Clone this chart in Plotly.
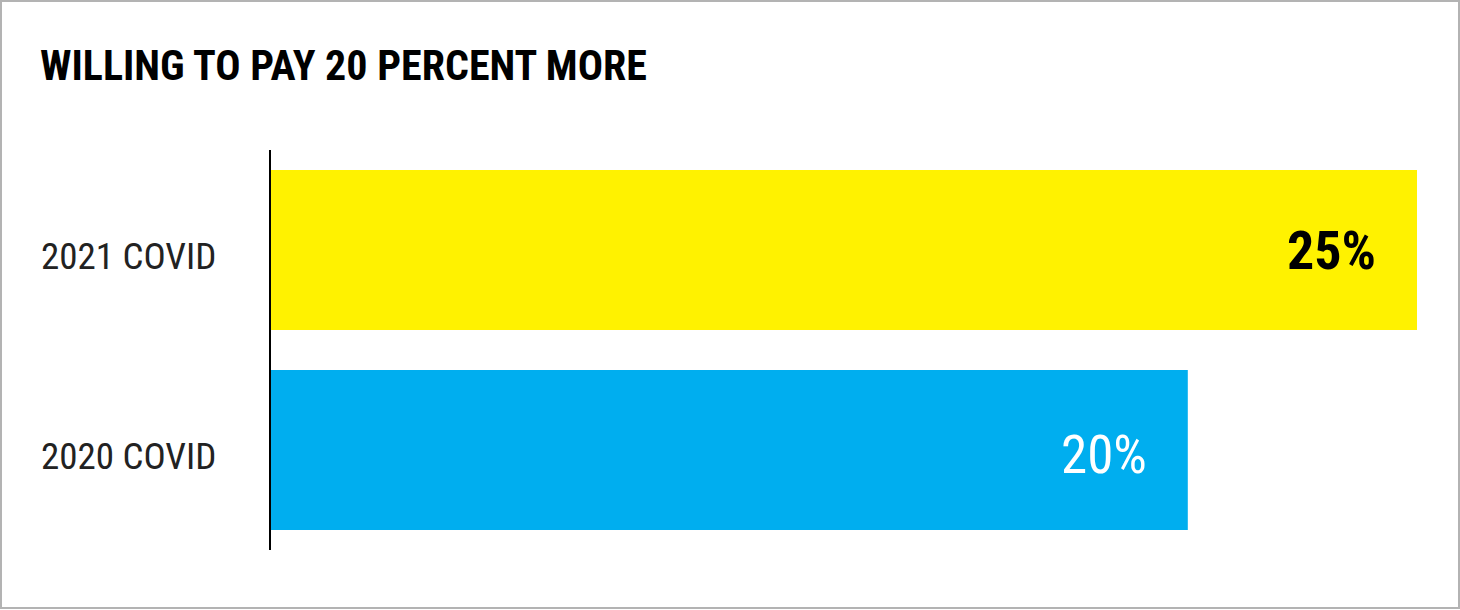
import plotly.graph_objects as go

# data
categories = ['2021 COVID', '2020 COVID']
values = [25, 20]
value_labels = ['25%', '20%']
bar_colors = ['#FFF200', '#00AEEF']
label_colors = ['#000000', '#FFFFFF']
label_weights = [700, 400]

W, H = 1460, 610
ml, mr, mt, mb = 271, 43, 150, 60
pw, ph = W - ml - mr, H - mt - mb

def px_x(px):
    return (px - ml) / pw

def px_y(py):
    return (H - mb - py) / ph

cond = 'Roboto Condensed, Roboto, sans-serif'

fig = go.Figure()
fig.add_trace(go.Bar(
    y=categories, x=values, orientation='h',
    marker=dict(color=bar_colors, line=dict(width=0)),
    hoverinfo='skip',
))

annotations = []
# category labels, left aligned
for cat in categories:
    annotations.append(dict(
        x=px_x(39), xref='paper', y=cat, yref='y', text=cat,
        xanchor='left', yanchor='middle', yshift=-6, showarrow=False,
        font=dict(family=cond, size=37, color='#222222', weight=400),
    ))
# value labels inside bar ends
for cat, v, t, c, w in zip(categories, values, value_labels, label_colors, label_weights):
    annotations.append(dict(
        x=v, xref='x', y=cat, yref='y', text=t,
        xanchor='right', yanchor='middle', xshift=-39,
        yshift=0 if w == 700 else -5, showarrow=False,
        font=dict(family=cond, size=54 if w == 700 else 53, color=c, weight=w),
    ))
# title
annotations.append(dict(
    x=px_x(38), xref='paper', y=px_y(65), yref='paper',
    text='WILLING TO PAY 20 PERCENT MORE',
    xanchor='left', yanchor='middle', showarrow=False,
    font=dict(family=cond, size=42, color='#000000', weight=700),
))

fig.update_layout(
    width=W, height=H,
    margin=dict(l=ml, r=mr, t=mt, b=mb),
    paper_bgcolor='white', plot_bgcolor='white',
    showlegend=False,
    bargap=0.2,
    xaxis=dict(range=[0, 25], visible=False, fixedrange=True),
    yaxis=dict(categoryorder='array', categoryarray=categories[::-1],
               showticklabels=False, showgrid=False, zeroline=False,
               showline=True, linecolor='#000000', linewidth=2, ticks=''),
    annotations=annotations,
    shapes=[dict(type='rect', xref='paper', yref='paper',
                 x0=px_x(1), x1=px_x(1459), y0=px_y(608), y1=px_y(1),
                 line=dict(color='#B3B3B3', width=2), fillcolor='rgba(0,0,0,0)',
                 layer='below')],
)

fig.write_html('out.html', config={'displayModeBar': False},
               post_script="document.body.style.margin='0';")
